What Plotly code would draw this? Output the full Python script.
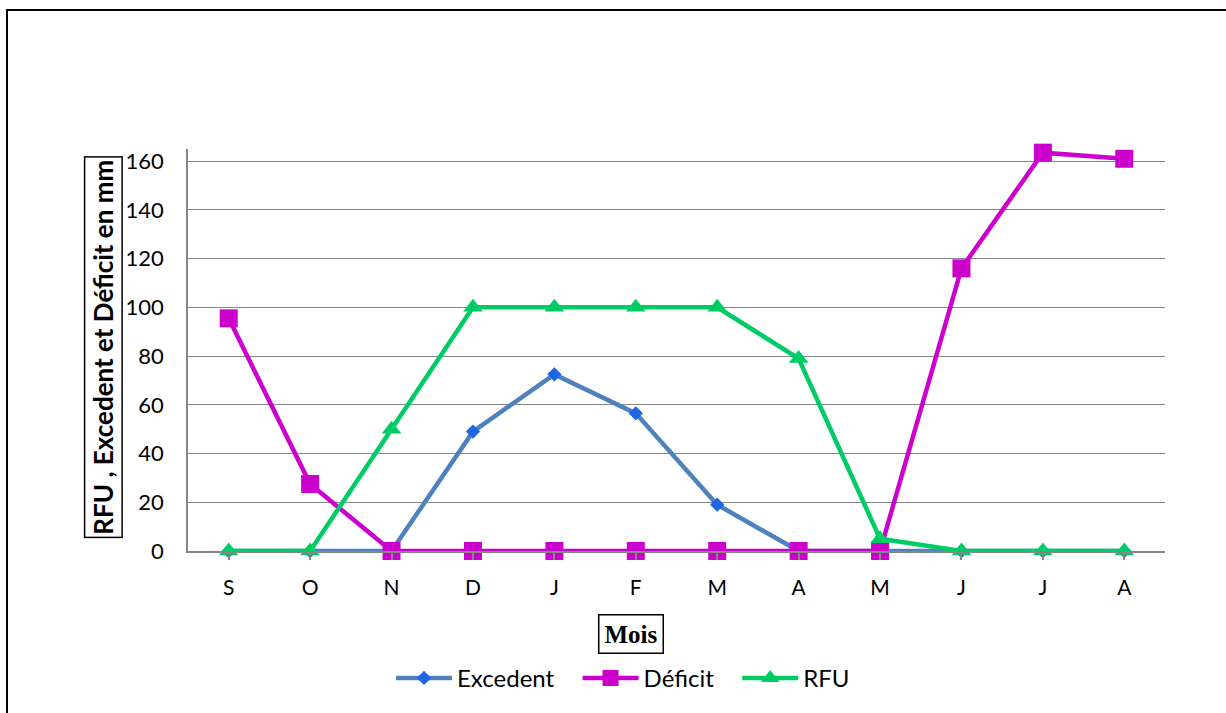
import plotly.graph_objects as go

months = ["S", "O", "N", "D", "J", "F", "M", "A", "M", "J", "J", "A"]
excedent = [0, 0, 0, 49, 72.5, 56.5, 19, 0, 0, 0, 0, 0]
deficit = [95.5, 27.5, 0, 0, 0, 0, 0, 0, 0, 116, 163.5, 161]
rfu = [0, 0, 50, 100, 100, 100, 100, 79, 5, 0, 0, 0]
y_ticks = [0, 20, 40, 60, 80, 100, 120, 140, 160]

x_idx = list(range(len(months)))

W, H = 1226, 713
YMAX = 165
L, R, B = 188, 1165, 553
PXU = (553 - 161) / 160.0
T = B - YMAX * PXU

def px(xp):
    return (xp - L) / (R - L)

def py(yp):
    return (B - yp) / (B - T)

FONT = "Lato, Carlito, sans-serif"
GAP = "\u00a0\u00a0\u00a0"

fig = go.Figure()
fig.add_trace(go.Scatter(x=x_idx, y=excedent, name="Excedent" + GAP, mode="lines+markers",
                         line=dict(color="#4F81BD", width=4.5),
                         marker=dict(symbol="diamond", size=11, color="#1F66E5"),
                         cliponaxis=False))
fig.add_trace(go.Scatter(x=x_idx, y=deficit, name="Déficit" + GAP, mode="lines+markers",
                         line=dict(color="#CC00CC", width=4.5),
                         marker=dict(symbol="square", size=18, color="#CC00CC"),
                         cliponaxis=False))
fig.add_trace(go.Scatter(x=x_idx, y=rfu, name="RFU", mode="lines+markers",
                         line=dict(color="#00CC66", width=4.5),
                         marker=dict(symbol="triangle-up", size=17, color="#00CC66"),
                         cliponaxis=False))

fig.update_layout(
    width=W, height=H,
    margin=dict(l=L, r=W - R, t=T, b=H - B, pad=0),
    paper_bgcolor="white", plot_bgcolor="white",
    font=dict(family=FONT, size=21, color="black"),
    showlegend=True,
    legend=dict(orientation="h", x=px(623), xanchor="center", y=py(681), yanchor="middle",
                font=dict(size=24, family=FONT), itemwidth=56, traceorder="normal"),
)
fig.update_xaxes(
    range=[-0.5, 11.5], tickmode="array", tickvals=x_idx, ticktext=months,
    showline=True, linecolor="#868686", linewidth=1.5,
    showgrid=False, ticks="outside", ticklen=7, tickcolor="#868686", tickwidth=1.5,
    tickson="boundaries", tickfont=dict(size=21), ticklabelstandoff=10, zeroline=False,
)
fig.update_yaxes(
    range=[0, YMAX], tickmode="array", tickvals=y_ticks,
    showline=True, linecolor="#868686", linewidth=1.5,
    showgrid=True, gridcolor="#868686", gridwidth=1.3,
    ticks="", tickfont=dict(size=22), ticklabelstandoff=18, zeroline=False,
)

# outer frame
fig.add_shape(type="rect", xref="paper", yref="paper",
              x0=px(7), x1=px(1240), y0=py(730), y1=py(9),
              line=dict(color="black", width=2), fillcolor="rgba(0,0,0,0)", layer="below")

# axis titles with boxes
fig.add_annotation(xref="paper", yref="paper", x=px(103), y=py(348),
                   xanchor="center", yanchor="middle",
                   text="<b>RFU , Excedent et Déficit en mm</b>", textangle=-90,
                   showarrow=False, font=dict(size=26, family=FONT),
                   bordercolor="black", borderwidth=1.5, borderpad=2, bgcolor="white")
fig.add_annotation(xref="paper", yref="paper", x=px(630.5), y=py(636.5),
                   xanchor="center", yanchor="middle",
                   text="<b>Mois</b>", showarrow=False,
                   font=dict(size=25, family="Liberation Serif, Times New Roman, serif"),
                   bordercolor="black", borderwidth=1.5, borderpad=5, bgcolor="white")

fig.write_html("out.html", config={"displayModeBar": False},
               post_script="document.body.style.margin='0px';document.body.style.overflow='hidden';")
